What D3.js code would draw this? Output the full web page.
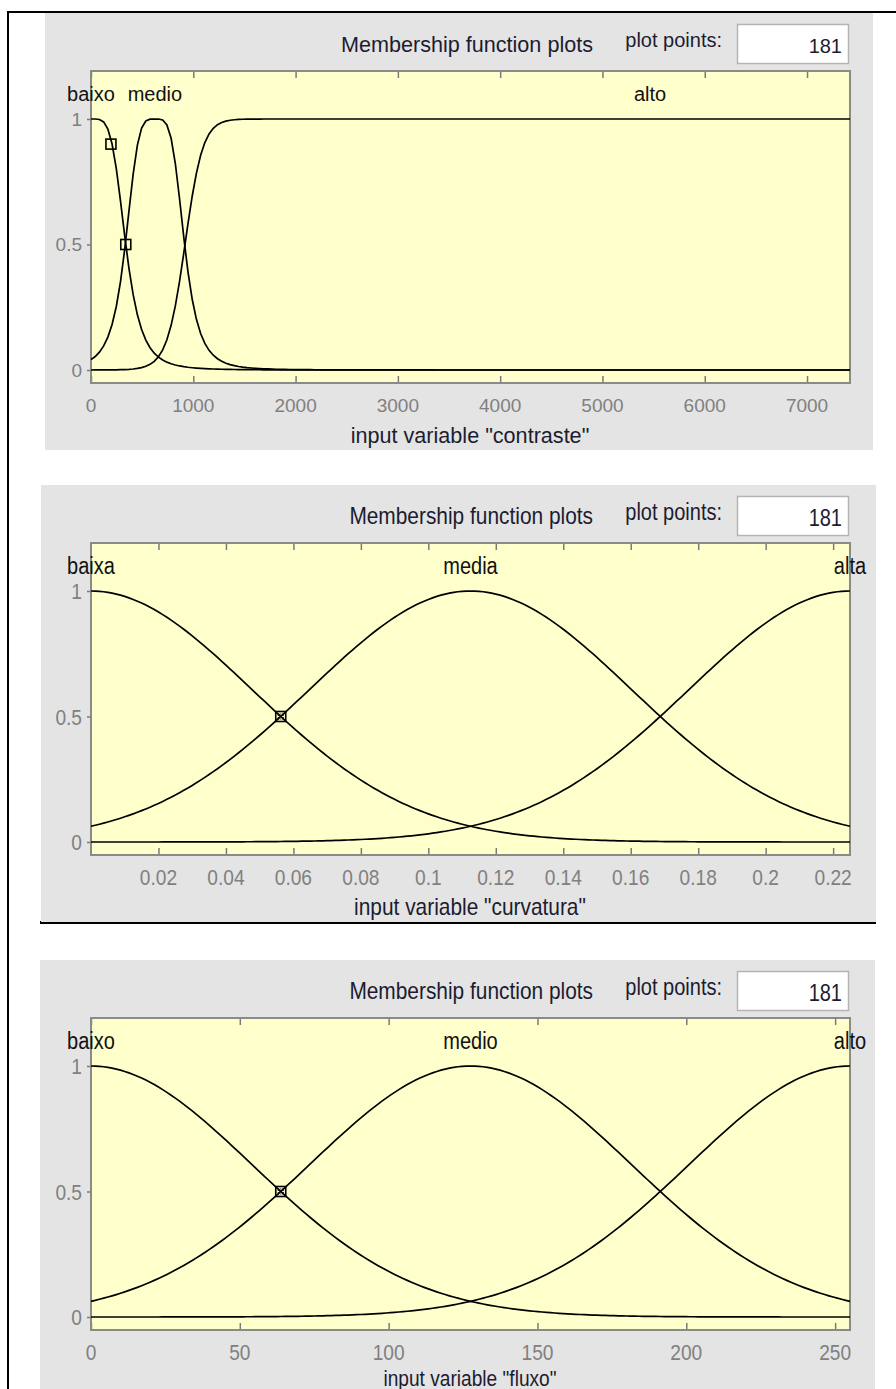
<!DOCTYPE html>
<html><head><meta charset="utf-8">
<script src="https://cdn.jsdelivr.net/npm/d3@7"></script>
<style>body{margin:0;background:#fff}svg{display:block}</style>
</head><body>
<svg id="c" width="896" height="1389"></svg>
<script>
// ---------------- data ----------------
const panelTitles = ["Membership function plots","Membership function plots","Membership function plots"];
const varNames = ["contraste","curvatura","fluxo"];
const plotPoints = [181,181,181];
const xDomains = [[0,7420],[0,0.225],[0,255]];
const xTickValues = [
  [0,1000,2000,3000,4000,5000,6000,7000],
  [0.02,0.04,0.06,0.08,0.1,0.12,0.14,0.16,0.18,0.2,0.22],
  [0,50,100,150,200,250]
];
const yTickValues = [0,0.5,1];
// membership functions: type, width (a or sigma), slope b, centre c
const mfNames = [["baixo","medio","alto"],["baixa","media","alta"],["baixo","medio","alto"]];
const mfType = [["gbell","gbell","gbell"],["gauss","gauss","gauss"],["gauss","gauss","gauss"]];
const mfWidth = [[340,290,4546],[0.0478,0.0478,0.0478],[54.15,54.15,54.15]];
const mfSlope = [[2.2,2.05,26],[0,0,0],[0,0,0]];
const mfCentre = [[0,625,5465],[0,0.1125,0.225],[0,127.5,255]];
// selected-MF handle markers [x, membership]
const handleX = [[195,340],[0.05625],[63.75]];
const handleY = [[0.9,0.5],[0.5],[0.5]];

// ---------------- layout ----------------
const panelTop = [13,485,960];
const panelLeft = [45,41,40];
const panelRight = [873,876,875];
const condensed = [1,0.87,0.87];
const fontStack = "'Liberation Sans', Arial, Helvetica, sans-serif";

const svg = d3.select("#c");

// table borders
svg.append("rect").attr("x",8).attr("y",11).attr("width",888).attr("height",2).attr("fill","#000");
svg.append("rect").attr("x",7).attr("y",11).attr("width",2).attr("height",1378).attr("fill","#000");
svg.append("rect").attr("x",40).attr("y",921).attr("width",836).attr("height",3).attr("fill","#000");

function txt(g, x, y, s, o){
  const sx = o.sx || 1;
  return g.append("text")
    .attr("transform", `translate(${x},${y}) scale(${sx},1)`)
    .attr("font-family", fontStack)
    .attr("font-size", o.size)
    .attr("fill", o.fill || "#000")
    .attr("text-anchor", o.anchor || "start")
    .attr("dominant-baseline", "central")
    .text(s);
}

function mf(type, v, a, b, c){
  if (type === "gauss") return Math.exp(-((v-c)*(v-c))/(2*a*a));
  return 1/(1+Math.pow(Math.abs((v-c)/a), 2*b));
}

panelTop.forEach((top, p) => {
  const g = svg.append("g");
  const sx = condensed[p];
  const bh = p === 2 ? 1389 - top : 437;
  g.append("rect").attr("x",panelLeft[p]).attr("y",top).attr("width",panelRight[p]-panelLeft[p]).attr("height",bh).attr("fill","#e4e4e4");

  const L = 91, R = 850, T = top + 58, B = top + 370;
  const x = d3.scaleLinear().domain(xDomains[p]).range([L, R]);
  const y = d3.scaleLinear().domain([0,1]).range([top + 357, top + 106]);
  const big = p===0 ? 21.6 : 24, mid = p===0 ? 20 : 23, small = p===0 ? 19 : 22;

  // title + plot points box
  txt(g, 593, top + 31, panelTitles[p], {size: big, sx, anchor:"end", fill:"#1c1c30"});
  txt(g, 722, top + 27, "plot points:", {size: mid, sx, anchor:"end", fill:"#1c1c30"});
  g.append("rect").attr("x",737.5).attr("y",top+11.5).attr("width",111).attr("height",39)
    .attr("fill","#fff").attr("stroke","#b4b4b4").attr("stroke-width",1.5);
  txt(g, 842, top + 33, String(plotPoints[p]), {size: mid, sx, anchor:"end", fill:"#1c1c30"});

  // plot area
  g.append("rect").attr("x",L).attr("y",T).attr("width",R-L).attr("height",B-T).attr("fill","#ffffcc");

  // ticks
  const ax = g.append("g").attr("transform",`translate(0,${B})`)
    .call(d3.axisBottom(x).tickValues(xTickValues[p]).tickSize(-7).tickPadding(0).tickFormat(d3.format("~g")));
  ax.select(".domain").remove();
  ax.selectAll("line").attr("stroke","#7a7a7a").attr("stroke-width",1.5);
  ax.selectAll("text").remove();
  xTickValues[p].forEach(v => txt(g, x(v), top + 392, d3.format("~g")(v), {size: small, sx, anchor:"middle", fill:"#808080"}));

  const axT = g.append("g").attr("transform",`translate(0,${T})`)
    .call(d3.axisTop(x).tickValues(xTickValues[p]).tickSize(-7).tickFormat(""));
  axT.select(".domain").remove();
  axT.selectAll("line").attr("stroke","#7a7a7a").attr("stroke-width",1.5);

  const ay = g.append("g").attr("transform",`translate(${L},0)`)
    .call(d3.axisLeft(y).tickValues(yTickValues).tickSize(4).tickFormat(""));
  ay.select(".domain").remove();
  ay.selectAll("line").attr("stroke","#7a7a7a").attr("stroke-width",1.5);
  yTickValues.forEach(v => txt(g, 82, y(v), d3.format("~g")(v), {size: small, sx, anchor:"end", fill:"#808080"}));

  // frame
  g.append("rect").attr("x",L).attr("y",T).attr("width",R-L).attr("height",B-T)
    .attr("fill","none").attr("stroke","#8a8a8a").attr("stroke-width",2);

  // curves
  const xs = d3.range(plotPoints[p]).map(i => xDomains[p][0] + i*(xDomains[p][1]-xDomains[p][0])/(plotPoints[p]-1));
  const line = d3.line().x(d => x(d[0])).y(d => y(d[1]));
  mfNames[p].forEach((name, k) => {
    const pts = xs.map(v => [v, mf(mfType[p][k], v, mfWidth[p][k], mfSlope[p][k], mfCentre[p][k])]);
    g.append("path").datum(pts).attr("d", line).attr("fill","none")
      .attr("stroke","#000").attr("stroke-width",1.7);
    txt(g, x(mfCentre[p][k]), y(1.1), name, {size: mid, sx, anchor:"middle", fill:"#111"});
  });

  // handles
  handleX[p].forEach((hx, i) => {
    const cx = x(hx), cy = y(handleY[p][i]);
    g.append("rect").attr("x",cx-5).attr("y",cy-5).attr("width",10).attr("height",10)
      .attr("fill","none").attr("stroke","#000").attr("stroke-width",1.6);
    if (p > 0) g.append("rect").attr("x",cx-2.5).attr("y",cy-2.5).attr("width",5).attr("height",5)
      .attr("fill","none").attr("stroke","#000").attr("stroke-width",1).attr("stroke-dasharray","1,1");
  });

  // axis label
  const ly = p === 2 ? top + 418 : top + 422;
  txt(g, 470, ly, `input variable "${varNames[p]}"`, {size: p===2 ? 22 : big, sx, anchor:"middle", fill:"#1c1c30"});
});
</script>
</body></html>
